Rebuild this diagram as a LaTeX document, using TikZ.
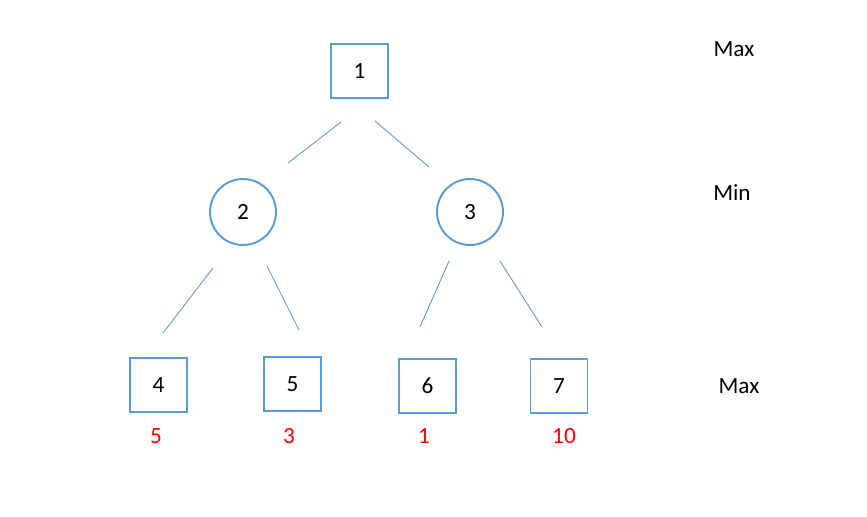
\documentclass[tikz,border=0pt]{standalone}
\usepackage{fontspec}
\setmainfont{Carlito}
\usepackage{xcolor}
\usetikzlibrary{positioning}
\definecolor{nodeblue}{RGB}{91,155,213}
\definecolor{valred}{RGB}{255,0,0}

\begin{document}
\begin{tikzpicture}[
    maxbox/.style={rectangle, draw=nodeblue, line width=1.1pt, minimum width=1.14cm, minimum height=1.08cm, inner sep=0pt, font=\fontsize{13.2}{15}\selectfont},
    minnode/.style={circle, draw=nodeblue, line width=1.1pt, minimum size=1.32cm, inner sep=0pt, font=\fontsize{13.2}{15}\selectfont},
    edge/.style={draw=nodeblue, line width=0.5pt},
    val/.style={text=valred, font=\fontsize{13.2}{15}\selectfont},
    level/.style={font=\fontsize{13.2}{15}\selectfont}
]
\useasboundingbox (0,0) rectangle (17.34,-10.32);

\node[maxbox] (n1) at (7.19,-1.42) {1};
\node[minnode] (n2) at (4.86,-4.24) {2};
\node[minnode] (n3) at (9.40,-4.24) {3};
\node[maxbox] (n4) at (3.17,-7.70) {4};
\node[maxbox] (n5) at (5.85,-7.68) {5};
\node[maxbox] (n6) at (8.55,-7.72) {6};
\node[maxbox] (n7) at (11.18,-7.72) {7};

\node[val] (v4) at (3.12,-8.72) {5};
\node[val] (v5) at (5.78,-8.72) {3};
\node[val] (v6) at (8.48,-8.72) {1};
\node[val] (v7) at (11.28,-8.72) {10};

\node[level] (lmax) at (14.68,-0.98) {Max};
\node[level] (lmin) at (14.64,-3.86) {Min};
\node[level] (lmaxb) at (14.78,-7.72) {Max};

\draw[edge] ([shift={(-0.37,-1.02)}]n1.center) -- ([shift={(0.90,0.98)}]n2.center);
\draw[edge] ([shift={(0.31,-1.00)}]n1.center) -- ([shift={(-0.82,0.90)}]n3.center);
\draw[edge] ([shift={(-0.60,-1.12)}]n2.center) -- ([shift={(0.09,1.04)}]n4.center);
\draw[edge] ([shift={(0.48,-1.08)}]n2.center) -- ([shift={(0.13,1.08)}]n5.center);
\draw[edge] ([shift={(-0.42,-0.98)}]n3.center) -- ([shift={(-0.15,1.18)}]n6.center);
\draw[edge] ([shift={(0.60,-0.98)}]n3.center) -- ([shift={(-0.34,1.18)}]n7.center);

\end{tikzpicture}
\end{document}
